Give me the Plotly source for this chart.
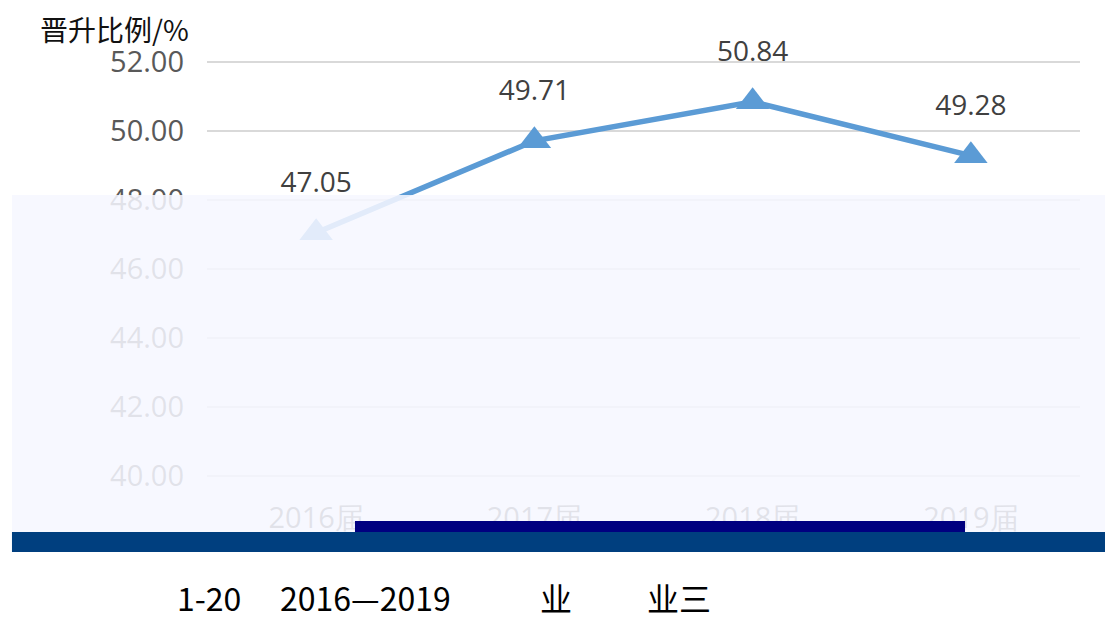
import plotly.graph_objects as go

categories = ["2016届", "2017届", "2018届", "2019届"]
values = [47.05, 49.71, 50.84, 49.28]
value_labels = ["47.05", "49.71", "50.84", "49.28"]
y_ticks = [40, 42, 44, 46, 48, 50, 52]
y_tick_labels = ["40.00", "42.00", "44.00", "46.00", "48.00", "50.00", "52.00"]
y_title = "晋升比例/%"
caption_parts = ["1-20", "2016—2019", "业", "业三"]
caption_x = [-0.037, 0.081, 0.379, 0.502]

fig = go.Figure()
fig.add_trace(go.Scatter(
    x=categories, y=values,
    mode="lines+markers",
    line=dict(color="#5b9bd5", width=5.5),
    marker=dict(symbol="triangle-up", size=29, color="#5b9bd5"),
    cliponaxis=False, showlegend=False, hoverinfo="skip",
))
# data labels (invisible large marker pushes the label above the triangle)
fig.add_trace(go.Scatter(
    x=categories, y=values,
    mode="markers+text",
    marker=dict(size=52, opacity=0),
    text=value_labels,
    textposition="top center",
    textfont=dict(size=28, color="#404040", family="Open Sans"),
    cliponaxis=False, showlegend=False, hoverinfo="skip",
))

annotations = [
    dict(text=y_title, xref="paper", yref="paper", x=-0.1936, y=1.074,
         xanchor="left", yanchor="middle", showarrow=False,
         font=dict(size=28, color="#111111", family="Noto Sans CJK SC")),
]
for part, xp in zip(caption_parts, caption_x):
    annotations.append(dict(
        text=part, xref="paper", yref="paper", x=xp, y=-0.285,
        xanchor="left", yanchor="middle", showarrow=False,
        font=dict(size=32, color="black", family="Liberation Sans Narrow, Noto Sans CJK SC"),
    ))

fig.update_layout(
    width=1105, height=611,
    margin=dict(l=199, r=33, t=52, b=141),
    paper_bgcolor="white", plot_bgcolor="white",
    xaxis=dict(
        type="category", range=[-0.5, 3.5],
        showgrid=False, showline=False, zeroline=False,
        tickfont=dict(size=29, color="#595959", family="Open Sans"),
        ticklabelstandoff=20,
    ),
    yaxis=dict(
        range=[39.95, 52.05], tickvals=y_ticks, ticktext=y_tick_labels,
        showgrid=True, gridcolor="#d9d9d9", gridwidth=2,
        zeroline=False, showline=False,
        tickfont=dict(size=29, color="#595959", family="Open Sans"),
        ticklabelstandoff=22,
    ),
    annotations=annotations,
    shapes=[
        # pale overlay covering the lower part of the picture
        dict(type="rect", xref="paper", yref="paper",
             x0=-0.2234, x1=1.04, y0=-0.1292, y1=0.677,
             fillcolor="#f6f7ff", opacity=0.87, line=dict(width=0), layer="above"),
        # navy strip
        dict(type="rect", xref="paper", yref="paper",
             x0=0.1695, x1=0.8683, y0=-0.1292, y1=-0.1029,
             fillcolor="#000080", line=dict(width=0), layer="above"),
        # dark blue band
        dict(type="rect", xref="paper", yref="paper",
             x0=-0.2234, x1=1.04, y0=-0.177, y1=-0.1292,
             fillcolor="#003f7f", line=dict(width=0), layer="above"),
    ],
)

fig.write_html("out.html")
